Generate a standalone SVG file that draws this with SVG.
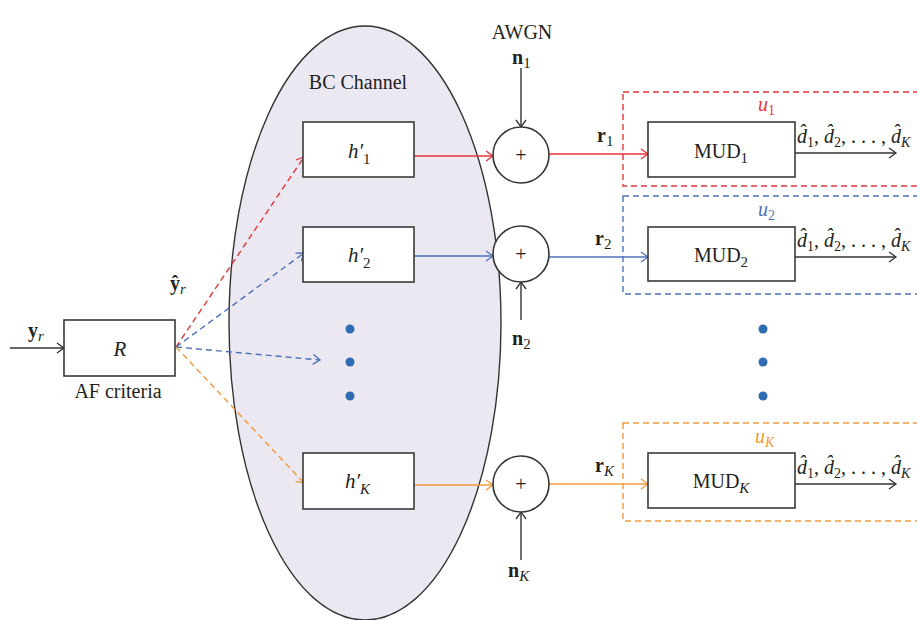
<svg xmlns="http://www.w3.org/2000/svg" width="917" height="620" viewBox="0 0 917 620">
<defs>
<style>
text{font-family:"Liberation Serif","Times New Roman",serif;fill:#231f20}
.box{fill:#fff;stroke:#3a3a3a;stroke-width:1.6}
.ln{fill:none;stroke-width:1.4}
.k{stroke:#333}
.r{stroke:#e8333a}
.b{stroke:#4a72b8}
.o{stroke:#f29a3b}
.d{stroke-dasharray:6 4}
.it{font-style:italic}
.bd{font-weight:bold}
.dot{fill:#2e6db4}
</style>
<marker id="ak" markerWidth="12" markerHeight="12" refX="10" refY="6" orient="auto" markerUnits="userSpaceOnUse"><path d="M3,1 L10,6 L3,11" fill="none" stroke="#333" stroke-width="1.3"/></marker>
<marker id="ar" markerWidth="12" markerHeight="12" refX="10" refY="6" orient="auto" markerUnits="userSpaceOnUse"><path d="M3,1 L10,6 L3,11" fill="none" stroke="#e8333a" stroke-width="1.3"/></marker>
<marker id="ab" markerWidth="12" markerHeight="12" refX="10" refY="6" orient="auto" markerUnits="userSpaceOnUse"><path d="M3,1 L10,6 L3,11" fill="none" stroke="#4a72b8" stroke-width="1.3"/></marker>
<marker id="ao" markerWidth="12" markerHeight="12" refX="10" refY="6" orient="auto" markerUnits="userSpaceOnUse"><path d="M3,1 L10,6 L3,11" fill="none" stroke="#f29a3b" stroke-width="1.3"/></marker>
</defs>
<rect width="917" height="620" fill="#fff"/>

<g id="channel">
<ellipse cx="365" cy="323" rx="136" ry="297" fill="#ebe8f1" stroke="#333" stroke-width="1.4"/>
<text x="358" y="89" font-size="20" text-anchor="middle">BC Channel</text>
</g>

<g id="user-boxes">
<rect x="623" y="92" width="300" height="94" fill="none" class="ln r d"/>
<text x="758" y="111" font-size="20" class="it" style="fill:#e8333a">u<tspan font-size="14" dy="4" font-style="normal">1</tspan></text>
<rect x="623" y="196" width="300" height="98" fill="none" class="ln b d"/>
<text x="758" y="216" font-size="20" class="it" style="fill:#4a72b8">u<tspan font-size="14" dy="4" font-style="normal">2</tspan></text>
<rect x="623" y="423" width="300" height="98" fill="none" class="ln o d"/>
<text x="755" y="443" font-size="20" class="it" style="fill:#f29a3b">u<tspan font-size="14" dy="4">K</tspan></text>
</g>

<g id="connectors">
<line x1="10" y1="348" x2="64" y2="348" class="ln k" marker-end="url(#ak)"/>
<line x1="176" y1="347" x2="304" y2="157" class="ln r d" marker-end="url(#ar)"/>
<line x1="176" y1="347" x2="304" y2="253" class="ln b d" marker-end="url(#ab)"/>
<line x1="176" y1="347" x2="320" y2="360" class="ln b d" marker-end="url(#ab)"/>
<line x1="176" y1="347" x2="304" y2="483" class="ln o d" marker-end="url(#ao)"/>
<line x1="414" y1="156" x2="493" y2="156" class="ln r" marker-end="url(#ar)"/>
<line x1="414" y1="256" x2="493" y2="256" class="ln b" marker-end="url(#ab)"/>
<line x1="414" y1="485" x2="493" y2="485" class="ln o" marker-end="url(#ao)"/>
<line x1="549" y1="154" x2="648" y2="154" class="ln r" marker-end="url(#ar)"/>
<line x1="549" y1="257" x2="648" y2="257" class="ln b" marker-end="url(#ab)"/>
<line x1="549" y1="484" x2="648" y2="484" class="ln o" marker-end="url(#ao)"/>
<line x1="521" y1="68" x2="521" y2="127" class="ln k" marker-end="url(#ak)"/>
<line x1="521" y1="320" x2="521" y2="282" class="ln k" marker-end="url(#ak)"/>
<line x1="521" y1="560" x2="521" y2="512" class="ln k" marker-end="url(#ak)"/>
<line x1="795" y1="153" x2="896" y2="153" class="ln k" marker-end="url(#ak)"/>
<line x1="795" y1="257" x2="896" y2="257" class="ln k" marker-end="url(#ak)"/>
<line x1="795" y1="484" x2="896" y2="484" class="ln k" marker-end="url(#ak)"/>
</g>

<g id="input-labels">
<text x="28" y="337" font-size="20" class="bd">y<tspan font-size="15" dy="4" font-weight="normal" font-style="italic">r</tspan></text>
<text x="170" y="290" font-size="20" class="bd">ŷ<tspan font-size="15" dy="4" font-weight="normal" font-style="italic">r</tspan></text>
</g>

<g id="node-R">
<rect x="64" y="320" width="111" height="56" class="box"/>
<text x="120" y="356" font-size="21" class="it" text-anchor="middle">R</text>
<text x="118" y="398" font-size="20" text-anchor="middle">AF criteria</text>
</g>

<g id="node-h1">
<rect x="303" y="122" width="111" height="55" class="box"/>
<text x="348" y="158" font-size="21" class="it">h′<tspan font-size="15" dy="6" font-style="normal">1</tspan></text>
</g>
<g id="node-h2">
<rect x="303" y="227" width="111" height="55" class="box"/>
<text x="348" y="262" font-size="21" class="it">h′<tspan font-size="15" dy="6" font-style="normal">2</tspan></text>
</g>
<g id="node-hK">
<rect x="303" y="453" width="111" height="56" class="box"/>
<text x="345" y="488" font-size="21" class="it">h′<tspan font-size="15" dy="6">K</tspan></text>
</g>

<g id="dots-left">
<circle cx="350" cy="329" r="4.5" class="dot"/>
<circle cx="350" cy="362" r="4.5" class="dot"/>
<circle cx="350" cy="396" r="4.5" class="dot"/>
</g>
<g id="dots-right">
<circle cx="763" cy="329" r="4.5" class="dot"/>
<circle cx="763" cy="362" r="4.5" class="dot"/>
<circle cx="763" cy="396" r="4.5" class="dot"/>
</g>

<g id="adder-1">
<circle cx="521" cy="155" r="28" fill="#fff" stroke="#333" stroke-width="1.6"/>
<text x="521" y="162" font-size="20" text-anchor="middle">+</text>
<text x="522" y="39" font-size="20" text-anchor="middle">AWGN</text>
<text x="512" y="64" font-size="20" class="bd">n<tspan font-size="15" dy="4" font-weight="normal">1</tspan></text>
</g>
<g id="adder-2">
<circle cx="521" cy="254" r="28" fill="#fff" stroke="#333" stroke-width="1.6"/>
<text x="521" y="261" font-size="20" text-anchor="middle">+</text>
<text x="512" y="345" font-size="20" class="bd">n<tspan font-size="15" dy="4" font-weight="normal">2</tspan></text>
</g>
<g id="adder-K">
<circle cx="521" cy="484" r="28" fill="#fff" stroke="#333" stroke-width="1.6"/>
<text x="521" y="491" font-size="20" text-anchor="middle">+</text>
<text x="508" y="577" font-size="20" class="bd">n<tspan font-size="15" dy="4" font-weight="normal" font-style="italic">K</tspan></text>
</g>

<g id="r-labels">
<text x="597" y="142" font-size="20" class="bd">r<tspan font-size="15" dy="4" font-weight="normal">1</tspan></text>
<text x="595" y="245" font-size="20" class="bd">r<tspan font-size="15" dy="4" font-weight="normal">2</tspan></text>
<text x="595" y="472" font-size="20" class="bd">r<tspan font-size="15" dy="4" font-weight="normal" font-style="italic">K</tspan></text>
</g>

<g id="node-MUD1">
<rect x="648" y="122" width="147" height="55" class="box"/>
<text x="721" y="158" font-size="20" text-anchor="middle">MUD<tspan font-size="15" dy="5">1</tspan></text>
<text x="797" y="143" font-size="20" class="it">d̂<tspan font-size="14" dy="4" font-style="normal">1</tspan><tspan dy="-4" font-style="normal">, </tspan>d̂<tspan font-size="14" dy="4" font-style="normal">2</tspan><tspan dy="-4" font-style="normal">, . . . , </tspan>d̂<tspan font-size="14" dy="4">K</tspan></text>
</g>
<g id="node-MUD2">
<rect x="648" y="227" width="147" height="54" class="box"/>
<text x="721" y="262" font-size="20" text-anchor="middle">MUD<tspan font-size="15" dy="5">2</tspan></text>
<text x="797" y="247" font-size="20" class="it">d̂<tspan font-size="14" dy="4" font-style="normal">1</tspan><tspan dy="-4" font-style="normal">, </tspan>d̂<tspan font-size="14" dy="4" font-style="normal">2</tspan><tspan dy="-4" font-style="normal">, . . . , </tspan>d̂<tspan font-size="14" dy="4">K</tspan></text>
</g>
<g id="node-MUDK">
<rect x="648" y="453" width="147" height="55" class="box"/>
<text x="721" y="488" font-size="20" text-anchor="middle">MUD<tspan font-size="15" dy="5" font-style="italic">K</tspan></text>
<text x="797" y="474" font-size="20" class="it">d̂<tspan font-size="14" dy="4" font-style="normal">1</tspan><tspan dy="-4" font-style="normal">, </tspan>d̂<tspan font-size="14" dy="4" font-style="normal">2</tspan><tspan dy="-4" font-style="normal">, . . . , </tspan>d̂<tspan font-size="14" dy="4">K</tspan></text>
</g>
</svg>
